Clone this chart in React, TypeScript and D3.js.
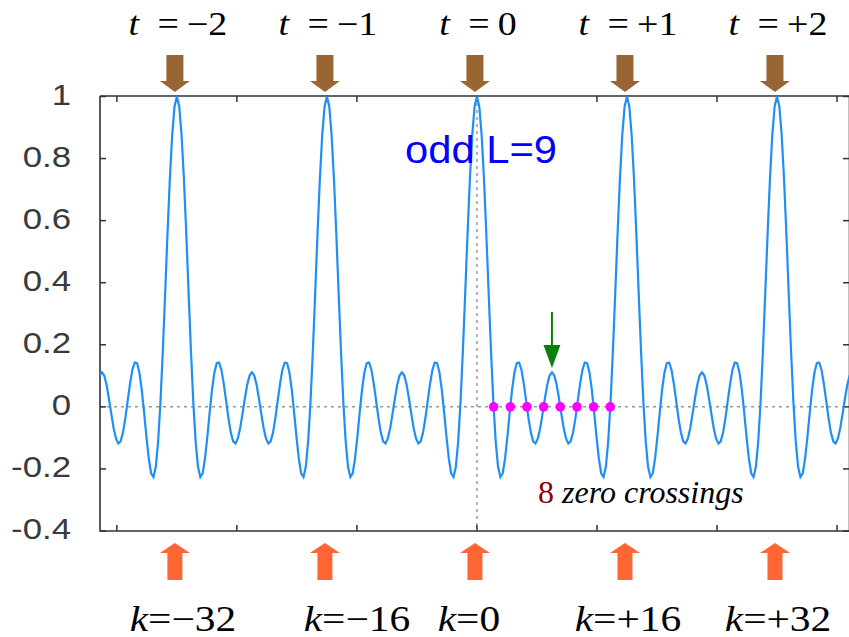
import * as d3 from "d3"

document.body.style.margin = "0"

const width = 849
const height = 637

const halfPeriod = [
  1.0, 0.968, 0.876, 0.735, 0.559, 0.367, 0.18, 0.016, -0.111, -0.193, -0.226,
  -0.214, -0.166, -0.096, -0.017, 0.056, 0.111, 0.141, 0.143, 0.119, 0.074,
  0.019, -0.037, -0.083, -0.111, -0.118, -0.102, -0.068, -0.022, 0.027, 0.071,
  0.101, 0.111,
]
const kStep = 0.25
const samplesPerPeriod = 16

const peaksK = [-32, -16, 0, 16, 32]
const topValues = ["−2", "−1", "0", "+1", "+2"]
const bottomValues = ["−32", "−16", "0", "+16", "+32"]
const bottomLabelShift = [6, 30, -8, 1, 1]

const zeroCrossK = [1.78, 3.56, 5.33, 7.11, 8.89, 10.67, 12.44, 14.22]
const markedMaxK = 8

const yTicks = [-0.4, -0.2, 0, 0.2, 0.4, 0.6, 0.8, 1]
const yTickLabels = ["-0.4", "-0.2", "0", "0.2", "0.4", "0.6", "0.8", "1"]
const xTicksT = [-2.4, -1.6, -0.8, 0, 0.8, 1.6, 2.4]

const series: [number, number][] = d3.range(-161, 161).map((i) => {
  const m = ((i % 64) + 64) % 64
  return [i * kStep, halfPeriod[m <= 32 ? m : 64 - m]]
})

const serif = "'Liberation Serif', 'Times New Roman', serif"
const sans = "'Liberation Sans', Arial, sans-serif"

export default function App() {
  const left = 100
  const right = 849
  const top = 96
  const bottom = 531

  const x = d3.scaleLinear().domain([-40.2, 40]).range([left, 852])
  const y = d3.scaleLinear().domain([-0.4, 1]).range([bottom, 96.5])

  const line = d3
    .line<[number, number]>()
    .x((d) => x(d[0]))
    .y((d) => y(d[1]))

  const frame = "#333"

  return (
    <svg width={width} height={height} style={{ display: "block" }}>
      <defs>
        <clipPath id="plot">
          <rect x={left} y={top - 4} width={right - left} height={bottom - top + 4} />
        </clipPath>
      </defs>

      {/* zero axes */}
      <line x1={left} x2={right} y1={y(0)} y2={y(0)} stroke="#999" strokeWidth={1.5} strokeDasharray="3,4" />
      <line x1={x(0)} x2={x(0)} y1={top} y2={bottom} stroke="#999" strokeWidth={1.5} strokeDasharray="3,4" />

      {/* frame */}
      <path d={`M${left},${top}H${right + 2}M${left},${top}V${bottom}H${right + 2}M${right + 0.5},${top}V${bottom}`} fill="none" stroke={frame} strokeWidth={1.6} />
      {yTicks.map((v) => (
        <g key={"yt" + v}>
          <line x1={left} x2={left + 6} y1={y(v)} y2={y(v)} stroke={frame} strokeWidth={1.5} />
          <line x1={right - 6} x2={right} y1={y(v)} y2={y(v)} stroke={frame} strokeWidth={1.5} />
        </g>
      ))}
      {xTicksT.map((t) => (
        <g key={"xt" + t}>
          <line x1={x(t * samplesPerPeriod)} x2={x(t * samplesPerPeriod)} y1={top} y2={top + 6} stroke={frame} strokeWidth={1.5} />
          <line x1={x(t * samplesPerPeriod)} x2={x(t * samplesPerPeriod)} y1={bottom} y2={bottom - 6} stroke={frame} strokeWidth={1.5} />
        </g>
      ))}
      {yTicks.map((v, i) => (
        <text
          key={"yl" + v}
          transform={`translate(71,${y(v) + 8}) scale(1.2,1)`}
          textAnchor="end"
          fontFamily={sans}
          fontSize={29}
          fill="#3a3a3a"
        >
          {yTickLabels[i]}
        </text>
      ))}

      {/* curve */}
      <path d={line(series) ?? ""} fill="none" stroke="#1f8ff5" strokeWidth={2.2} clipPath="url(#plot)" />

      {/* zero crossings */}
      {zeroCrossK.map((k) => (
        <circle key={"z" + k} cx={x(k)} cy={y(0)} r={4.8} fill="#ff00ff" />
      ))}

      {/* green marker */}
      <line x1={x(markedMaxK)} x2={x(markedMaxK)} y1={312} y2={348} stroke="#0a800a" strokeWidth={2} />
      <path d={`M${x(markedMaxK) - 8.5},345L${x(markedMaxK) + 8.5},345L${x(markedMaxK)},368Z`} fill="#0a800a" />

      {/* peak arrows */}
      {peaksK.map((k) => {
        const cx = x(k) - 2
        return (
          <g key={"a" + k}>
            <path
              d={`M${cx - 8.5},55H${cx + 8.5}V81H${cx + 15}L${cx},92L${cx - 15},81H${cx - 8.5}Z`}
              fill="#996633"
            />
            <path
              d={`M${cx - 7.5},580H${cx + 7.5}V553H${cx + 15}L${cx},543L${cx - 15},553H${cx - 7.5}Z`}
              fill="#ff6633"
            />
          </g>
        )
      })}

      {/* top labels */}
      {peaksK.map((k, i) => (
        <text
          key={"tl" + k}
          transform={`translate(${x(k) + 1},35) scale(1.15,1)`}
          textAnchor="middle"
          fontFamily={serif}
          fontSize={33}
          fill="#000"
        >
          <tspan fontStyle="italic">t</tspan>
          <tspan dx={16}>=</tspan>
          <tspan dx={7}>{topValues[i]}</tspan>
        </text>
      ))}

      {/* bottom labels */}
      {peaksK.map((k, i) => (
        <text
          key={"bl" + k}
          transform={`translate(${x(k) + bottomLabelShift[i]},631) scale(1.15,1)`}
          textAnchor="middle"
          fontFamily={serif}
          fontSize={36}
          fill="#000"
        >
          <tspan fontStyle="italic">k</tspan>={bottomValues[i]}
        </text>
      ))}

      <text x={405} y={163} fontFamily={sans} fontSize={38} fill="#0000ff" textLength={152} lengthAdjust="spacingAndGlyphs">
        odd L=9
      </text>

      <text x={538} y={503} fontFamily={serif} fontSize={32}>
        <tspan fill="#8b0000">8</tspan>
        <tspan fontStyle="italic" fill="#000"> zero crossings</tspan>
      </text>
    </svg>
  )
}
